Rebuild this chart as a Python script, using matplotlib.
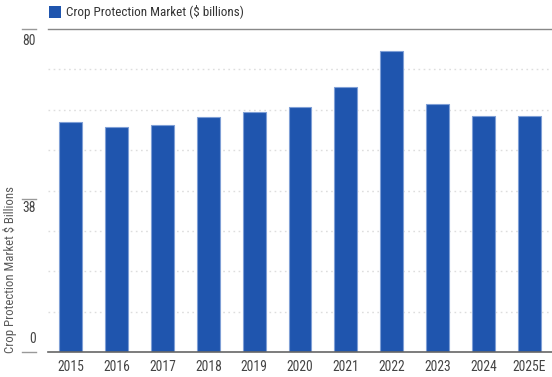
import matplotlib
matplotlib.use("Agg")
import matplotlib.pyplot as plt
import matplotlib.transforms as mtransforms
from matplotlib.patches import Rectangle

# data
years = ['2015', '2016', '2017', '2018', '2019', '2020', '2021', '2022', '2023', '2024', '2025E']
market = [56.9, 55.7, 56.2, 58.3, 59.4, 60.8, 65.6, 74.5, 61.4, 58.4, 58.4]
y_ticks = [0, 38, 80]
legend_label = 'Crop Protection Market ($ billions)'
y_label = 'Crop Protection Market $ Billions'

plt.rcParams['font.family'] = ['Roboto Condensed', 'DejaVu Sans']

bar_color = '#1f55ae'
text_color = '#444444'
fs = 9.8

fig = plt.figure(figsize=(5.52, 3.77), dpi=100)
ax = fig.add_axes([0.087, 0.0663, 0.913, 0.8567])

x = range(len(years))
ax.bar(x, market, width=0.5, color=bar_color, edgecolor='#7f9fd6', linewidth=0.8, zorder=3)

ax.set_xlim(-0.5, len(years) - 0.5)
ax.set_ylim(0, 80)

# dotted grid every 10
for g in range(10, 80, 10):
    ax.axhline(g, color='#dddddd', linestyle=(0, (1.2, 2.5)), linewidth=1.0, zorder=1)

# solid top line and baseline
ax.axhline(80, color='#888888', linewidth=1.0, zorder=4, clip_on=False)
ax.axhline(0, color='#666666', linewidth=1.2, zorder=4, clip_on=False)

for s in ax.spines.values():
    s.set_visible(False)

ax.set_xticks(list(x))
ax.set_xticklabels(years, fontsize=fs, color=text_color)
ax.tick_params(axis='x', length=0, pad=6)
ax.set_yticks([])

# y ticks: short lines left of axes with labels next to them
trans = mtransforms.blended_transform_factory(fig.transFigure, ax.transData)
label_offsets = {0: 13, 38: -9, 80: -12}
for t in y_ticks:
    ax.plot([22 / 552, 36 / 552], [t, t], transform=trans, color='#999999', linewidth=1.0, clip_on=False)
    ax.annotate(str(t), xy=(36 / 552, t), xycoords=trans, xytext=(0, label_offsets[t] * 0.72),
                textcoords='offset points', ha='right', va='center', fontsize=fs, color=text_color)

# rotated y label anchored at the bottom
fig.text(10 / 552, 0.064, y_label, rotation=90, ha='center', va='bottom', fontsize=9.2, color='#5a5a5a')

# legend
fig.patches.append(Rectangle((49 / 552, 1 - 18 / 377), 12 / 552, 12 / 377, transform=fig.transFigure,
                             facecolor=bar_color, edgecolor='none'))
fig.text(66 / 552, 1 - 12 / 377, legend_label, ha='left', va='center', fontsize=9.4, color='#333333')

fig.savefig('out.png', dpi=100)
